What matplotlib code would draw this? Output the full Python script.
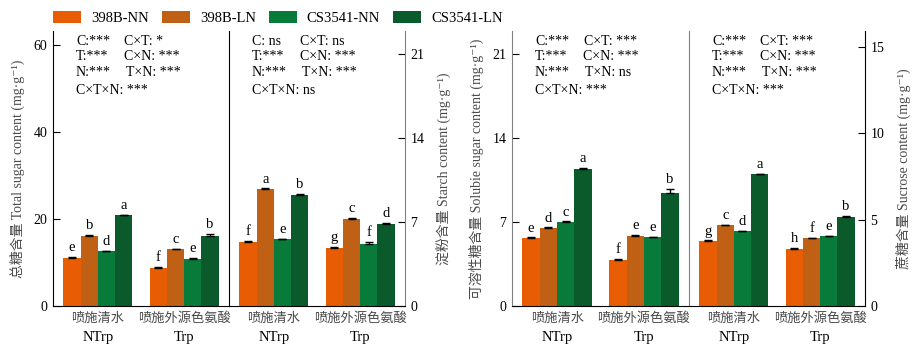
import numpy as np
import matplotlib
matplotlib.use('Agg')
import matplotlib.pyplot as plt
from matplotlib.patches import Patch

plt.rcParams['font.family'] = ['Liberation Serif', 'Noto Sans CJK SC', 'DejaVu Serif']

# data
cultivars = ['398B-NN', '398B-LN', 'CS3541-NN', 'CS3541-LN']
colors = ['#E85D04', '#C06014', '#087A3A', '#0B5A2B']
groups_cn = ['喷施清水', '喷施外源色氨酸']
groups_en = ['NTrp', 'Trp']

# rows: cultivar, cols: NTrp, Trp
total_sugar = [[11.1, 8.8], [16.2, 13.1], [12.6, 10.9], [20.8, 16.2]]
total_err = [[0.1, 0.1], [0.2, 0.1], [0.1, 0.2], [0.1, 0.4]]
total_let = [['e', 'f'], ['b', 'c'], ['d', 'e'], ['a', 'b']]

starch = [[5.34, 4.87], [9.77, 7.26], [5.59, 5.2], [9.27, 6.85]]
starch_err = [[0.05, 0.06], [0.03, 0.06], [0.03, 0.12], [0.04, 0.05]]
starch_let = [['f', 'g'], ['a', 'c'], ['e', 'f'], ['b', 'd']]

soluble = [[5.68, 3.84], [6.51, 5.87], [7.01, 5.71], [11.44, 9.44]]
soluble_err = [[0.03, 0.06], [0.03, 0.05], [0.03, 0.04], [0.05, 0.3]]
soluble_let = [['e', 'f'], ['d', 'e'], ['c', 'e'], ['a', 'b']]

sucrose = [[3.77, 3.32], [4.68, 3.92], [4.33, 4.02], [7.63, 5.17]]
sucrose_err = [[0.02, 0.04], [0.03, 0.03], [0.03, 0.02], [0.02, 0.02]]
sucrose_let = [['g', 'h'], ['c', 'f'], ['d', 'e'], ['a', 'b']]

stats = [
    (['C:***', 'T:***', 'N:***', 'C×T×N: ***'], ['C×T: *', 'C×N: ***', 'T×N: ***']),
    (['C: ns', 'T:***', 'N:***', 'C×T×N: ns'], ['C×T: ns', 'C×N: ***', 'T×N: ***']),
    (['C:***', 'T:***', 'N:***', 'C×T×N: ***'], ['C×T: ***', 'C×N: ***', 'T×N: ns']),
    (['C:***', 'T:***', 'N:***', 'C×T×N: ***'], ['C×T: ***', 'C×N: ***', 'T×N: ***']),
]

W, H = 918, 352
fig = plt.figure(figsize=(W / 100, H / 100), dpi=100)

gray = '#808080'
labc = '#4a4a4a'
bot, top = 306, 31
unit = ' (mg·g⁻¹)'
panels = [
    (53, 229, total_sugar, total_err, total_let, 63.2, [0, 20, 40, 60], 'left',
     '总糖含量 Total sugar content' + unit),
    (229, 405, starch, starch_err, starch_let, 22.9, [0, 7, 14, 21], 'right',
     '淀粉含量 Starch content' + unit),
    (512, 689, soluble, soluble_err, soluble_let, 22.9, [0, 7, 14, 21], 'left',
     '可溶性糖含量 Solubie sugar content' + unit),
    (689, 865, sucrose, sucrose_err, sucrose_let, 15.9, [0, 5, 10, 15], 'right',
     '蔗糖含量 Sucrose content' + unit),
]
spine_cols = [('k', 'k'), ('k', gray), (gray, gray), (gray, 'k')]

w = 0.2
x = np.arange(2)
for i, (x0, x1, vals, errs, lets, ymax, ticks, side, ylab) in enumerate(panels):
    ax = fig.add_axes([x0 / W, 1 - bot / H, (x1 - x0) / W, (bot - top) / H])
    ax.set_facecolor('none')
    for j in range(4):
        xs = x + (j - 1.5) * w
        ax.bar(xs, vals[j], width=w, color=colors[j], zorder=2)
        ax.errorbar(xs, vals[j], yerr=[[0, 0], errs[j]], fmt='none', ecolor='k',
                    elinewidth=1, capsize=3, capthick=1, zorder=3)
        for k in range(2):
            ax.annotate(lets[j][k], (xs[k], vals[j][k] + errs[j][k]), xytext=(0, 2),
                        textcoords='offset points', ha='center', va='bottom', fontsize=10.5)
    ax.set_xlim(-0.52, 1.52)
    ax.set_ylim(0, ymax)
    ax.set_yticks(ticks)
    ax.set_xticks([])
    ax.spines['top'].set_visible(False)
    ax.spines['left'].set_color(spine_cols[i][0])
    ax.spines['right'].set_color(spine_cols[i][1])
    if side == 'left':
        ax.yaxis.tick_left()
    else:
        ax.yaxis.tick_right()
        ax.yaxis.set_label_position('right')
        ax.spines['left'].set_visible(False)
    ax.tick_params(axis='y', direction='in', length=5, pad=4, labelsize=10)
    ax.set_ylabel(ylab, fontsize=10, color=labc, labelpad=6 if side == 'left' else 8)
    for k in range(2):
        ax.text(x[k], -0.047, groups_cn[k], transform=ax.get_xaxis_transform(),
                ha='center', va='center', fontsize=9.5, color=labc)
        ax.text(x[k], -0.113, groups_en[k], transform=ax.get_xaxis_transform(),
                ha='center', va='center', fontsize=10.5)
    col1, col2 = stats[i]
    ys = [0.963, 0.907, 0.849, 0.785]
    for t, yy in zip(col1, ys):
        ax.text(0.13, yy, t, transform=ax.transAxes, ha='left', va='center', fontsize=10)
    for t, yy, dx in zip(col2, ys, [0.0, -0.003, 0.008]):
        ax.text(0.405 + dx, yy, t, transform=ax.transAxes, ha='left', va='center', fontsize=10)

handles = [Patch(facecolor=c, edgecolor='none') for c in colors]
fig.legend(handles, cultivars, loc='center', bbox_to_anchor=(278 / W, 1 - 18 / H), ncol=4,
           frameon=False, fontsize=10.5, handlelength=1.9, handleheight=0.9,
           handletextpad=0.7, columnspacing=0.9)

fig.savefig('out.png', dpi=100)
